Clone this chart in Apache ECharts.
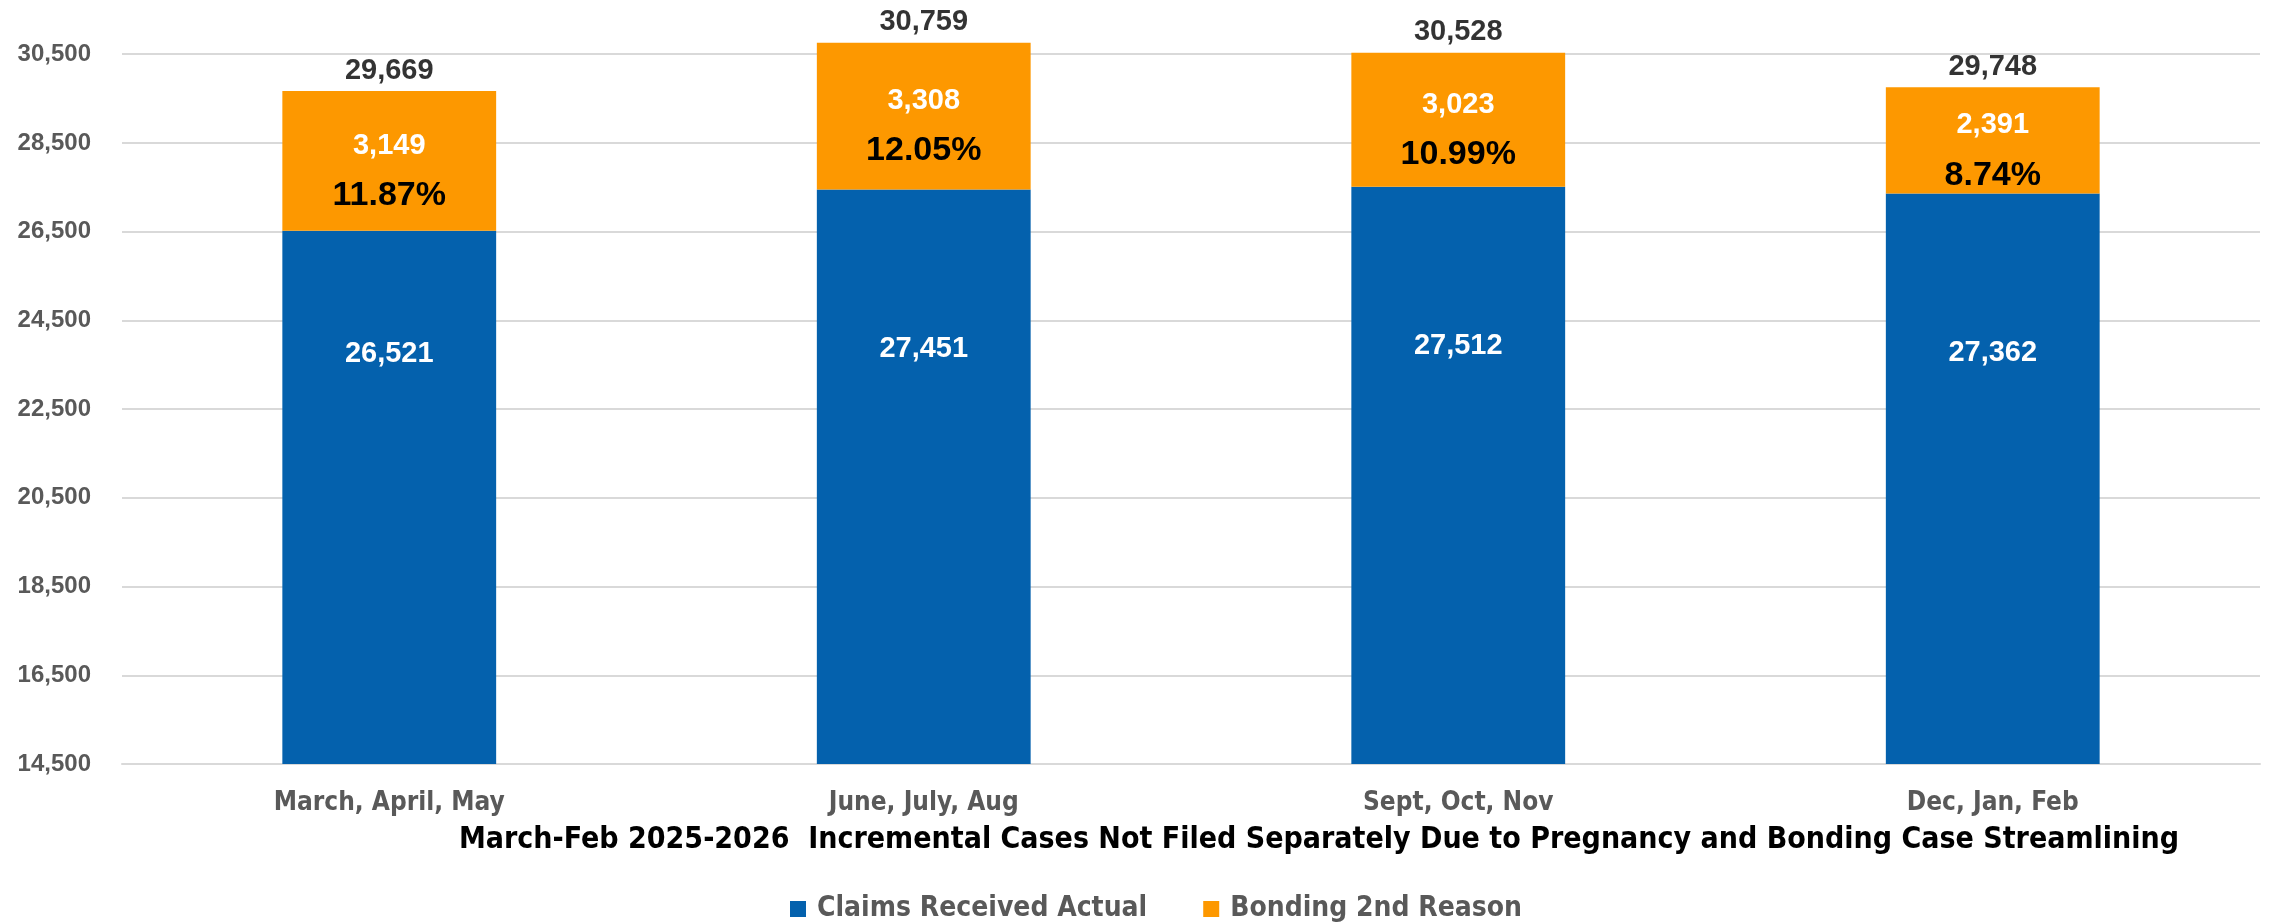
<!DOCTYPE html>
<html>
<head>
<meta charset="utf-8">
<title>Incremental Cases</title>
<script src="https://cdn.jsdelivr.net/npm/echarts@6/dist/echarts.min.js"></script>
<style>
  html, body { margin: 0; padding: 0; background: #fff; }
  #chart { width: 2272px; height: 924px; }
</style>
</head>
<body>
<div id="chart"></div>
<script>
// data
var categories = ['March, April, May', 'June, July, Aug', 'Sept, Oct, Nov', 'Dec, Jan, Feb']
var claimsActual = [26521, 27451, 27512, 27362]
var bonding2nd = [3149, 3308, 3023, 2391]
var totals = [29669, 30759, 30528, 29748]
var pctLabels = ['11.87%', '12.05%', '10.99%', '8.74%']
var yMin = 14500
var yMax = 31000 // a bit of room above the 30,500 line for the tallest stack
var yStep = 2000

// the first blue label sits higher than the others in the original
var blueLabelShift = [-36, 0, 0, 0]

var narrow = '"Liberation Sans Narrow", "DejaVu Sans Condensed", sans-serif'
var sans = '"Liberation Sans", Arial, sans-serif'

function fmt(v) {
  return Number(v).toLocaleString('en-US')
}

var chart = echarts.init(document.getElementById('chart'))

chart.setOption({
  animation: false,
  title: {
    text: 'March-Feb 2025-2026  Incremental Cases Not Filed Separately Due to Pregnancy and Bonding Case Streamlining',
    left: 1314,
    top: 820,
    textAlign: 'center',
    textStyle: {
      fontFamily: narrow,
      fontSize: 30,
      fontWeight: 'bold',
      color: '#000'
    }
  },
  legend: {
    data: ['Claims Received Actual', 'Bonding 2nd Reason'],
    left: 785,
    top: 890,
    itemWidth: 16,
    itemHeight: 16,
    itemGap: 56,
    icon: 'rect',
    textStyle: {
      fontFamily: narrow,
      fontSize: 28,
      fontWeight: 'bold',
      color: '#595959',
      padding: [0, 0, 0, 6]
    }
  },
  grid: {
    left: 122,
    right: 12,
    top: 32,
    bottom: 160
  },
  xAxis: {
    type: 'category',
    data: categories,
    axisTick: { show: false },
    axisLine: { lineStyle: { color: '#d9d9d9', width: 2 } },
    axisLabel: {
      margin: 26,
      fontFamily: narrow,
      fontSize: 26,
      fontWeight: 'bold',
      color: '#595959'
    }
  },
  yAxis: {
    type: 'value',
    min: yMin,
    max: yMax,
    interval: yStep,
    axisLine: { show: false },
    axisTick: { show: false },
    splitLine: {
      showMaxLine: false,
      lineStyle: { color: '#d9d9d9', width: 2 }
    },
    axisLabel: {
      margin: 31,
      showMaxLabel: false,
      fontFamily: sans,
      fontSize: 24,
      fontWeight: 'bold',
      color: '#595959',
      formatter: function(v) {
        return (v - yMin) % yStep === 0 ? fmt(v) : ''
      }
    }
  },
  series: [
    {
      name: 'Claims Received Actual',
      type: 'bar',
      stack: 'total',
      barWidth: '40%',
      itemStyle: { color: '#0461ad' },
      data: claimsActual.map(function(v, i) {
        return { value: v, label: { offset: [0, blueLabelShift[i]] } }
      }),
      label: {
        show: true,
        position: 'insideTop',
        distance: 145,
        fontFamily: sans,
        fontSize: 29,
        fontWeight: 'bold',
        color: '#fff',
        formatter: function(p) { return fmt(p.value) }
      }
    },
    {
      name: 'Bonding 2nd Reason',
      type: 'bar',
      stack: 'total',
      barWidth: '40%',
      itemStyle: { color: '#fd9800' },
      data: bonding2nd,
      label: {
        show: true,
        position: 'inside',
        formatter: function(p) {
          return '{v|' + fmt(p.value) + '}\n{p|' + pctLabels[p.dataIndex] + '}'
        },
        rich: {
          v: {
            fontFamily: sans,
            fontSize: 29,
            fontWeight: 'bold',
            color: '#fff',
            lineHeight: 70
          },
          p: {
            fontFamily: sans,
            fontSize: 34,
            fontWeight: 'bold',
            color: '#000',
            lineHeight: 30
          }
        }
      }
    },
    {
      // totals written above each stack
      name: 'Total',
      type: 'scatter',
      symbolSize: 0,
      silent: true,
      data: totals,
      label: {
        show: true,
        position: 'top',
        distance: 6,
        fontFamily: sans,
        fontSize: 29,
        fontWeight: 'bold',
        color: '#000',
        formatter: function(p) { return fmt(p.value) }
      }
    }
  ]
})
</script>
</body>
</html>
